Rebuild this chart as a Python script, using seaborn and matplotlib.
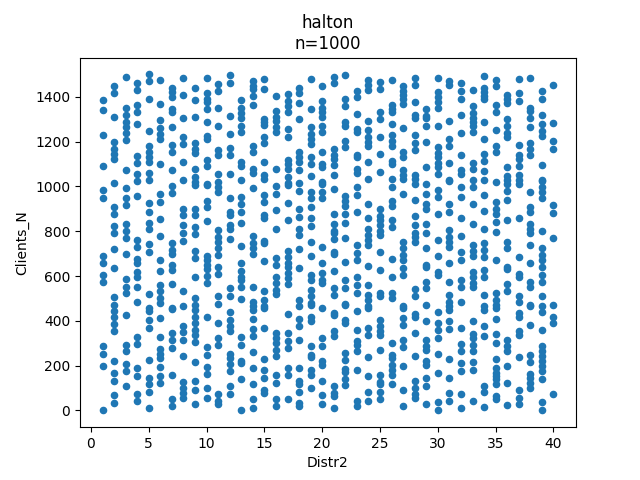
import matplotlib
matplotlib.use("Agg")
import matplotlib.pyplot as plt
import seaborn as sns
import pandas as pd

title = "halton\nn=1000"
x_label = "Distr2"
y_label = "Clients_N"

# Clients_N values, one list per Distr2 value (1..40)
col_01 = [1387, 1342, 1231, 1093, 983, 946, 689, 657, 605, 572, 286, 252, 198, 3]
col_02 = [1449, 1416, 1309, 1200, 1167, 1145, 1123, 1016, 909, 876, 824, 790, 719, 635, 506, 472, 444, 415, 385, 355, 222, 167, 133, 68, 34]
col_03 = [1489, 1349, 1318, 1289, 1264, 1238, 1209, 1071, 994, 950, 916, 834, 802, 768, 698, 586, 553, 523, 427, 293, 264, 209, 178, 107]
col_04 = [1461, 1429, 1363, 1330, 1278, 1135, 1105, 1056, 1022, 956, 760, 728, 678, 657, 620, 597, 550, 482, 326, 296, 190, 153, 74, 41]
col_05 = [1500, 1471, 1389, 1249, 1179, 1152, 1130, 1108, 1061, 1027, 926, 886, 837, 808, 743, 709, 520, 457, 444, 404, 367, 227, 145, 116, 83, 9]
col_06 = [1475, 1367, 1298, 1259, 1234, 1212, 1098, 965, 931, 855, 778, 672, 624, 560, 531, 501, 479, 412, 327, 274, 252, 234, 194, 153, 123]
col_07 = [1441, 1420, 1397, 1345, 1330, 1264, 1185, 1152, 1071, 1000, 971, 746, 716, 698, 649, 627, 565, 457, 453, 345, 316, 278, 160, 49, 19]
col_08 = [1483, 1407, 1304, 1222, 1190, 1111, 1027, 901, 871, 827, 790, 756, 534, 464, 379, 350, 316, 241, 127, 101, 79, 56]
col_09 = [1441, 1385, 1308, 1194, 1167, 1150, 1078, 1041, 1019, 1005, 901, 871, 820, 787, 713, 679, 597, 501, 472, 449, 419, 390, 360, 338, 305, 216, 130, 89, 27]
col_10 = [1483, 1416, 1389, 1375, 1345, 1286, 1227, 1212, 1120, 1093, 1012, 1005, 935, 908, 846, 689, 672, 649, 630, 600, 568, 419, 281, 249, 194, 163, 98, 56]
col_11 = [1456, 1426, 1348, 1268, 1164, 1138, 1056, 1019, 997, 975, 805, 775, 753, 723, 694, 642, 609, 509, 476, 390, 323, 290, 71, 41, 27]
col_12 = [1496, 1463, 1315, 1234, 1170, 1138, 1056, 946, 886, 871, 827, 808, 763, 546, 512, 441, 404, 375, 355, 252, 234, 207, 175, 108, 74]
col_13 = [1386, 1352, 1327, 1304, 1271, 1244, 1108, 1093, 1027, 953, 920, 886, 837, 734, 660, 624, 597, 580, 553, 497, 326, 293, 222, 212, 138, 4]
col_14 = [1471, 1449, 1434, 1404, 1363, 1182, 1152, 1078, 1061, 994, 778, 746, 723, 698, 553, 482, 464, 449, 409, 364, 330, 261, 190, 116, 49, 12]
col_15 = [1481, 1434, 1301, 1286, 1274, 1219, 1194, 1111, 1049, 1034, 960, 931, 871, 857, 757, 746, 669, 531, 494, 464, 456, 370, 231, 179, 145, 93, 79]
col_16 = [1404, 1338, 1308, 1293, 1264, 1244, 1078, 1000, 968, 894, 812, 679, 649, 594, 568, 538, 520, 345, 323, 301, 271, 241, 157, 123, 53, 19]
col_17 = [1412, 1382, 1360, 1333, 1256, 1219, 1120, 1101, 1078, 1041, 1016, 1005, 926, 849, 713, 686, 660, 639, 615, 590, 565, 430, 345, 308, 278, 190, 160, 49]
col_18 = [1441, 1419, 1372, 1301, 1152, 1130, 1111, 1071, 1016, 980, 901, 864, 812, 783, 719, 635, 494, 464, 409, 375, 316, 190, 130, 116, 83, 34, 19]
col_19 = [1478, 1345, 1264, 1234, 1212, 1190, 1130, 1101, 1046, 975, 946, 908, 857, 825, 750, 689, 605, 583, 538, 509, 479, 471, 419, 397, 286, 249, 237, 182, 157, 101]
col_20 = [1446, 1382, 1352, 1330, 1311, 1271, 1241, 1152, 1101, 1086, 1019, 1012, 975, 946, 731, 657, 612, 583, 568, 456, 323, 286, 219, 204, 130, 68, 30]
col_21 = [1490, 1461, 1167, 1141, 1123, 1096, 1049, 990, 876, 834, 802, 790, 763, 709, 698, 624, 546, 516, 434, 424, 355, 330, 108, 79, 64, 9]
col_22 = [1498, 1389, 1357, 1286, 1271, 1204, 1175, 956, 935, 911, 879, 837, 768, 664, 583, 546, 476, 471, 404, 390, 256, 227, 187, 172, 142, 113]
col_23 = [1426, 1397, 1323, 1256, 1241, 1141, 1130, 1078, 1061, 997, 960, 886, 738, 701, 672, 594, 560, 523, 444, 360, 308, 293, 264, 182, 41, 19]
col_24 = [1475, 1452, 1431, 1293, 1253, 1219, 1200, 1179, 1108, 1031, 923, 857, 812, 783, 760, 738, 645, 560, 516, 494, 464, 456, 370, 338, 237, 153, 81, 44]
col_25 = [1466, 1434, 1330, 1301, 1219, 1145, 1064, 901, 867, 849, 827, 802, 783, 709, 627, 523, 509, 404, 375, 353, 335, 271, 160, 127, 116, 83, 49]
col_26 = [1475, 1363, 1345, 1330, 1278, 1230, 1204, 1182, 1115, 1101, 1034, 997, 935, 911, 852, 820, 675, 597, 523, 501, 301, 249, 234, 201, 182, 160, 118]
col_27 = [1446, 1426, 1407, 1389, 1367, 1259, 1152, 1130, 1071, 1049, 1031, 965, 753, 723, 694, 672, 635, 605, 464, 456, 412, 382, 316, 281, 197, 89, 19]
col_28 = [1486, 1452, 1378, 1318, 1304, 1230, 1194, 1164, 1049, 1031, 1012, 941, 867, 827, 793, 775, 753, 541, 509, 430, 419, 345, 241, 130, 101, 71, 56]
col_29 = [1345, 1315, 1304, 1268, 1200, 1086, 1012, 968, 923, 901, 834, 793, 723, 649, 639, 575, 546, 472, 400, 316, 286, 271, 219, 201, 145, 108, 27]
col_30 = [1486, 1422, 1397, 1375, 1348, 1271, 1175, 1150, 1130, 1105, 1086, 1056, 986, 953, 879, 760, 689, 620, 605, 441, 390, 360, 323, 252, 167, 38, 4]
col_31 = [1471, 1452, 1293, 1212, 1179, 1105, 1022, 1027, 920, 886, 805, 775, 753, 731, 660, 575, 516, 486, 467, 449, 397, 364, 231, 145, 79, 41]
col_32 = [1463, 1426, 1392, 1318, 1238, 1138, 1075, 1056, 997, 953, 857, 778, 709, 672, 583, 550, 486, 367, 296, 264, 212, 178, 74, 12]
col_33 = [1431, 1357, 1327, 1304, 1286, 1268, 1244, 1105, 1078, 1027, 997, 920, 834, 738, 713, 689, 620, 594, 568, 550, 400, 341, 323, 293, 264, 216, 182, 41]
col_34 = [1493, 1441, 1422, 1404, 1392, 1286, 1212, 1145, 1115, 1067, 1027, 960, 891, 808, 746, 716, 686, 627, 594, 516, 464, 449, 379, 330, 108, 83, 15]
col_35 = [1475, 1449, 1363, 1333, 1253, 1182, 1152, 1019, 931, 901, 879, 842, 797, 672, 523, 494, 472, 456, 409, 341, 301, 231, 190, 167, 153, 142, 116, 64, 49]
col_36 = [1407, 1389, 1372, 1301, 1268, 1238, 1219, 1086, 1046, 1027, 1012, 980, 941, 852, 753, 723, 642, 630, 565, 531, 316, 286, 267, 197, 123, 24]
col_37 = [1478, 1416, 1382, 1185, 1138, 1123, 1093, 1049, 1027, 1009, 861, 683, 609, 594, 509, 486, 434, 419, 353, 338, 237, 93, 56, 27]
col_38 = [1486, 1352, 1338, 1304, 1264, 1194, 1167, 1138, 975, 908, 886, 834, 812, 790, 738, 657, 575, 553, 472, 464, 382, 249, 216, 163, 145, 123, 101]
col_39 = [1426, 1389, 1318, 1278, 1249, 1227, 1096, 1022, 1027, 997, 975, 946, 802, 723, 694, 672, 642, 605, 575, 509, 467, 441, 360, 286, 264, 241, 219, 197, 175, 142, 38, 0]
col_40 = [1452, 1283, 1204, 1167, 916, 882, 768, 471, 419, 390, 71]

columns = [col_01, col_02, col_03, col_04, col_05, col_06, col_07, col_08, col_09, col_10,
           col_11, col_12, col_13, col_14, col_15, col_16, col_17, col_18, col_19, col_20,
           col_21, col_22, col_23, col_24, col_25, col_26, col_27, col_28, col_29, col_30,
           col_31, col_32, col_33, col_34, col_35, col_36, col_37, col_38, col_39, col_40]

rows = []
for i, vals in enumerate(columns, start=1):
    for v in vals:
        rows.append((i, v))
df = pd.DataFrame(rows, columns=[x_label, y_label])

fig, ax = plt.subplots(figsize=(6.4, 4.8), dpi=100)
sns.scatterplot(data=df, x=x_label, y=y_label, ax=ax, s=20, color="#1f77b4",
                linewidth=1.0, edgecolor="#1f77b4")
ax.set_title(title)
ax.set_xlabel(x_label)
ax.set_ylabel(y_label)
fig.savefig("out.png", dpi=100)
